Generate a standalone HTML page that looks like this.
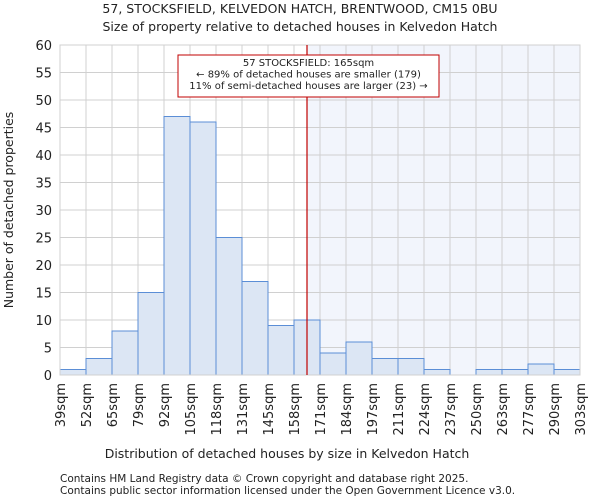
<!DOCTYPE html>
<html><head><meta charset="utf-8"><style>
body{margin:0;background:#fff;font-family:"DejaVu Sans","Liberation Sans",sans-serif}
svg text{font-family:"DejaVu Sans","Liberation Sans",sans-serif;fill:#222}
</style></head><body>
<svg id="chart" width="600" height="500">
<text x="300" y="13" text-anchor="middle" font-size="12.5">57, STOCKSFIELD, KELVEDON HATCH, BRENTWOOD, CM15 0BU</text>
<text x="300" y="31" text-anchor="middle" font-size="12.5">Size of property relative to detached houses in Kelvedon Hatch</text>
<g id="plot"></g>
<text x="287" y="458" text-anchor="middle" font-size="12.5">Distribution of detached houses by size in Kelvedon Hatch</text>
<text transform="translate(13,210) rotate(-90)" text-anchor="middle" font-size="12.5">Number of detached properties</text>
<text x="60" y="482" font-size="10.5" fill="#444">Contains HM Land Registry data © Crown copyright and database right 2025.</text>
<text x="60" y="494" font-size="10.5" fill="#444">Contains public sector information licensed under the Open Government Licence v3.0.</text>
</svg>
<script>
const binLabels=["39sqm","52sqm","65sqm","79sqm","92sqm","105sqm","118sqm","131sqm","145sqm","158sqm","171sqm","184sqm","197sqm","211sqm","224sqm","237sqm","250sqm","263sqm","277sqm","290sqm","303sqm"];
const counts=[1,3,8,15,47,46,25,17,9,10,4,6,3,3,1,0,1,1,2,1];
const yTicks=[0,5,10,15,20,25,30,35,40,45,50,55,60];
const propertyBin=9.5;
const X0=60,X1=580,Y0=375,Y1=45,YMAX=60;
const bw=(X1-X0)/counts.length;
const xs=i=>X0+i*bw;
const ys=v=>Y0-(v/YMAX)*(Y0-Y1);
const NS="http://www.w3.org/2000/svg";
const g=document.getElementById('plot');
function mk(t,a){const e=document.createElementNS(NS,t);for(const k in a)e.setAttribute(k,a[k]);g.appendChild(e);return e;}
const px=xs(propertyBin);
let sh=mk('rect',{x:px,y:Y1,width:X1-px,height:Y0-Y1,fill:'#f2f5fc'});


yTicks.forEach(t=>{const l=mk('line',{x1:X0,x2:X1,y1:ys(t),y2:ys(t),stroke:'#d0d0d0'});


const tx=mk('text',{x:X0-8,y:ys(t)+5,'text-anchor':'end','font-size':'13'});tx.textContent=t;

});
binLabels.forEach((lab,i)=>{const l=mk('line',{x1:xs(i),x2:xs(i),y1:Y1,y2:Y0,stroke:'#d0d0d0'});


const tx=mk('text',{transform:`translate(${xs(i)+5},${Y0+8}) rotate(-90)`,'text-anchor':'end','font-size':'13'});tx.textContent=lab;

});
counts.forEach((c,i)=>{if(c<=0)return;const r=mk('rect',{x:xs(i),y:ys(c),width:bw,height:Y0-ys(c),fill:'#dce6f4',stroke:'#5b8ed6','stroke-width':1});

});
const fr=mk('rect',{x:X0,y:Y1,width:X1-X0,height:Y0-Y1,fill:'none',stroke:'#d0d0d0'});


const rl=mk('line',{x1:px,x2:px,y1:Y1,y2:Y0,stroke:'#c00000','stroke-width':1.2});


const bx=mk('rect',{x:178,y:55,width:261,height:42,fill:'#fff',stroke:'#c00000'});


["57 STOCKSFIELD: 165sqm","← 89% of detached houses are smaller (179)","11% of semi-detached houses are larger (23) →"].forEach((s,i)=>{const t=mk('text',{x:308.5,y:66+i*11.5,'text-anchor':'middle','font-size':'10'});t.textContent=s;

});
</script>
</body></html>
